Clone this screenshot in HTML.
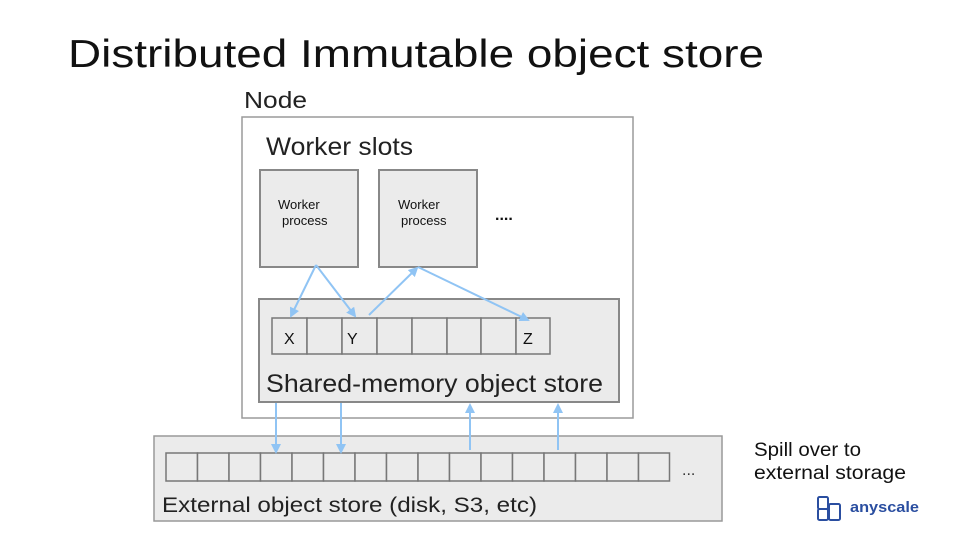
<!DOCTYPE html>
<html><head><meta charset="utf-8"><style>
html,body{margin:0;padding:0;background:#fff}
svg{display:block}
text{font-family:"Liberation Sans",sans-serif}
</style></head><body>
<svg width="960" height="540" viewBox="0 0 960 540" xmlns="http://www.w3.org/2000/svg">
<defs>
<marker id="ah" markerWidth="10" markerHeight="10" refX="8" refY="5" orient="auto" markerUnits="userSpaceOnUse">
<path d="M0,0 L10,5 L0,10 z" fill="#90c4f4"/>
</marker>
</defs>
<text x="68" y="67" font-size="39" fill="#111" textLength="696" lengthAdjust="spacingAndGlyphs">Distributed Immutable object store</text>
<text x="244" y="108" font-size="23" fill="#222" textLength="63" lengthAdjust="spacingAndGlyphs">Node</text>
<rect x="242" y="117" width="391" height="301" fill="#fff" stroke="#9a9a9a" stroke-width="1.5"/>
<text x="266" y="155" font-size="25" fill="#222" textLength="147" lengthAdjust="spacingAndGlyphs">Worker slots</text>
<rect x="260" y="170" width="98" height="97" fill="#ebebeb" stroke="#888" stroke-width="2"/>
<rect x="379" y="170" width="98" height="97" fill="#ebebeb" stroke="#888" stroke-width="2"/>
<text x="278" y="209" font-size="13" fill="#111">Worker</text>
<text x="282" y="225" font-size="13" fill="#111">process</text>
<text x="398" y="209" font-size="13" fill="#111">Worker</text>
<text x="401" y="225" font-size="13" fill="#111">process</text>
<text x="495" y="220" font-size="16" font-weight="bold" fill="#111">....</text>
<rect x="259" y="299" width="360" height="103" fill="#ebebeb" stroke="#888" stroke-width="2"/>
<g fill="#ebebeb" stroke="#777" stroke-width="1.5">
<rect x="272" y="318" width="35" height="36"/><rect x="307" y="318" width="35" height="36"/>
<rect x="342" y="318" width="35" height="36"/><rect x="377" y="318" width="35" height="36"/>
<rect x="412" y="318" width="35" height="36"/><rect x="447" y="318" width="34" height="36"/>
<rect x="481" y="318" width="35" height="36"/><rect x="516" y="318" width="34" height="36"/>
</g>
<text x="284" y="344" font-size="16" fill="#111">X</text>
<text x="347" y="344" font-size="16" fill="#111">Y</text>
<text x="523" y="344" font-size="16" fill="#111">Z</text>
<text x="266" y="392" font-size="25" fill="#222" textLength="337" lengthAdjust="spacingAndGlyphs">Shared-memory object store</text>
<rect x="154" y="436" width="568" height="85" fill="#ebebeb" stroke="#999" stroke-width="1.5"/>
<g fill="#ebebeb" stroke="#777" stroke-width="1.5">
<rect x="166" y="453" width="31.5" height="28"/><rect x="197.5" y="453" width="31.5" height="28"/>
<rect x="229" y="453" width="31.5" height="28"/><rect x="260.5" y="453" width="31.5" height="28"/>
<rect x="292" y="453" width="31.5" height="28"/><rect x="323.5" y="453" width="31.5" height="28"/>
<rect x="355" y="453" width="31.5" height="28"/><rect x="386.5" y="453" width="31.5" height="28"/>
<rect x="418" y="453" width="31.5" height="28"/><rect x="449.5" y="453" width="31.5" height="28"/>
<rect x="481" y="453" width="31.5" height="28"/><rect x="512.5" y="453" width="31.5" height="28"/>
<rect x="544" y="453" width="31.5" height="28"/><rect x="575.5" y="453" width="31.5" height="28"/>
<rect x="607" y="453" width="31.5" height="28"/><rect x="638.5" y="453" width="31" height="28"/>
</g>
<g stroke="#90c4f4" stroke-width="2" fill="none" marker-end="url(#ah)">
<line x1="316" y1="265" x2="291" y2="316"/>
<line x1="316" y1="265" x2="355" y2="316"/>
<line x1="369" y1="315" x2="417" y2="268"/>
<line x1="418" y1="267" x2="528" y2="320"/>
<line x1="276" y1="403" x2="276" y2="452"/>
<line x1="341" y1="403" x2="341" y2="452"/>
<line x1="470" y1="450" x2="470" y2="405"/>
<line x1="558" y1="450" x2="558" y2="405"/>
</g>
<text x="682" y="475" font-size="16" fill="#333">...</text>
<text x="162" y="512" font-size="21" fill="#222" textLength="375" lengthAdjust="spacingAndGlyphs">External object store (disk, S3, etc)</text>
<text x="754" y="456" font-size="19" fill="#111" textLength="107" lengthAdjust="spacingAndGlyphs">Spill over to</text>
<text x="754" y="479" font-size="19" fill="#111" textLength="152" lengthAdjust="spacingAndGlyphs">external storage</text>
<g fill="none" stroke="#2a4ea0" stroke-width="2">
<rect x="818" y="497" width="10" height="12" rx="1.5"/>
<rect x="818" y="509" width="10" height="11" rx="1.5"/>
<rect x="829" y="504" width="11" height="16" rx="1.5"/>
</g>
<text x="850" y="512" font-size="15" font-weight="bold" fill="#2a4ea0" textLength="69" lengthAdjust="spacingAndGlyphs">anyscale</text>
</svg>
</body></html>
